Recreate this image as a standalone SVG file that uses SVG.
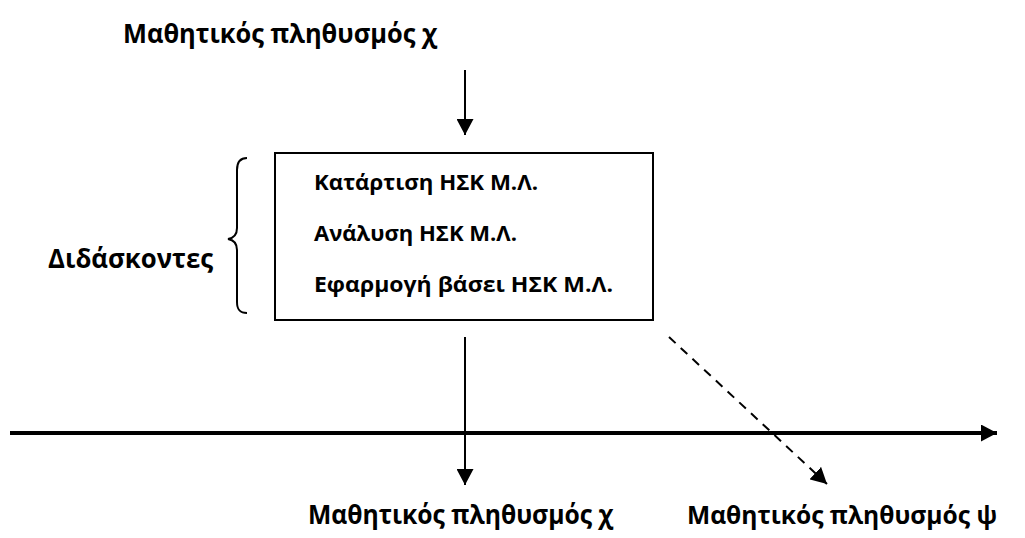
<svg xmlns="http://www.w3.org/2000/svg" width="1025" height="538" viewBox="0 0 1025 538">
<style>
.t{font-family:"Open Sans","Noto Sans","Liberation Sans",sans-serif;font-weight:bold;fill:#000}
.big{font-size:27px}
.mid{font-size:21px}
.ln{stroke:#000;stroke-width:2;fill:none}
</style>
<defs>
<marker id="ah" viewBox="0 0 16 17" refX="16" refY="8.5" markerWidth="16" markerHeight="17" markerUnits="userSpaceOnUse" orient="auto">
<path d="M0,0 L16,8.5 L0,17 Z" fill="#000"/>
</marker>
</defs>
<rect width="1025" height="538" fill="#fff"/>
<g id="top-label"><text class="t big" x="123" y="43" textLength="314" lengthAdjust="spacingAndGlyphs">Μαθητικός πληθυσμός χ</text></g>
<g id="box">
<rect x="275" y="153" width="378" height="167" fill="#fff" stroke="#000" stroke-width="2"/>
<text class="t mid" x="314" y="190" textLength="224" lengthAdjust="spacingAndGlyphs">Κατάρτιση ΗΣΚ Μ.Λ.</text>
<text class="t mid" x="314" y="241" textLength="203" lengthAdjust="spacingAndGlyphs">Ανάλυση ΗΣΚ Μ.Λ.</text>
<text class="t mid" x="314" y="292" textLength="299" lengthAdjust="spacingAndGlyphs">Εφαρμογή βάσει ΗΣΚ Μ.Λ.</text>
</g>
<g id="teachers">
<text class="t big" x="48" y="268" textLength="165" lengthAdjust="spacingAndGlyphs">Διδάσκοντες</text>
<path class="ln" stroke-width="1.5" d="M247,158 C240,158 237,162 237,170 L237,228 C237,234 234,238 228,239 C234,240 237,244 237,250 L237,302 C237,310 240,313 247,313"/>
</g>
<g id="bottom-x"><text class="t big" x="308" y="524" textLength="305" lengthAdjust="spacingAndGlyphs">Μαθητικός πληθυσμός χ</text></g>
<g id="bottom-y"><text class="t" font-size="25.5" x="687" y="524" textLength="310" lengthAdjust="spacingAndGlyphs">Μαθητικός πληθυσμός ψ</text></g>
<g id="connectors">
<line class="ln" x1="465" y1="70" x2="465" y2="135" marker-end="url(#ah)"/>
<line class="ln" x1="465" y1="337" x2="465" y2="485" marker-end="url(#ah)"/>
<line x1="10" y1="433" x2="997" y2="433" stroke="#000" stroke-width="4" marker-end="url(#ah)"/>
<line class="ln" x1="669" y1="337" x2="827" y2="484" stroke-dasharray="9,7" marker-end="url(#ah)"/>
</g>
</svg>
